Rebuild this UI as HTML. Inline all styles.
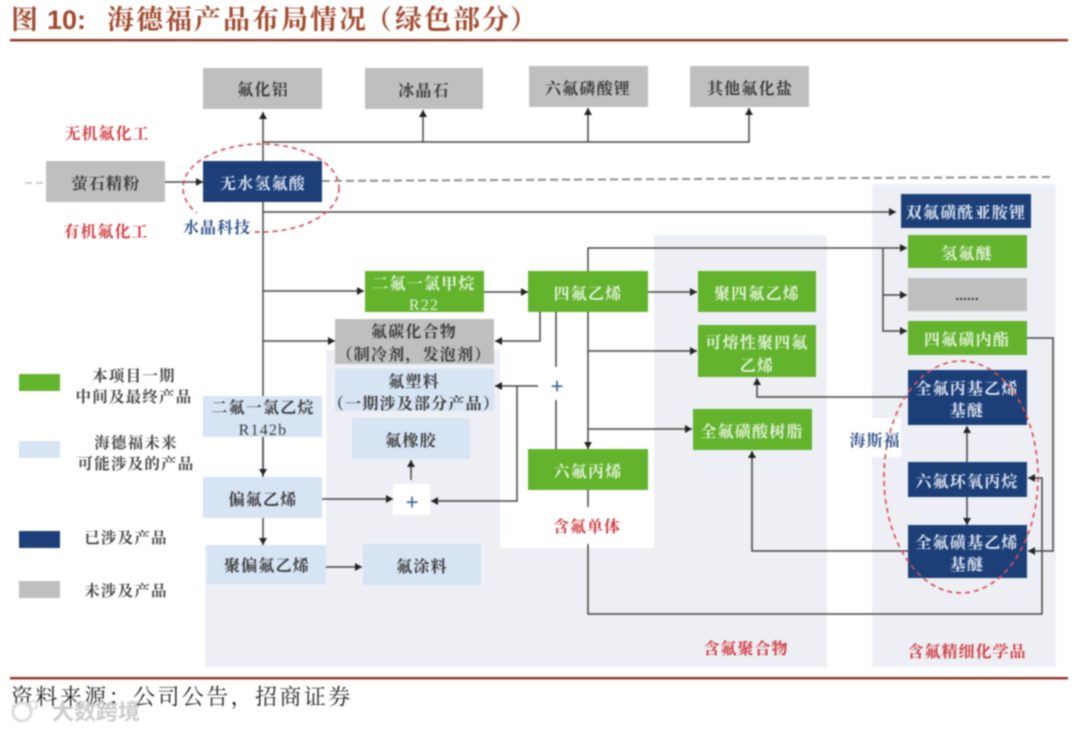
<!DOCTYPE html>
<html><head><meta charset="utf-8"><style>
html,body{margin:0;padding:0;background:#fff;width:1080px;height:731px;overflow:hidden}
svg{display:block;filter:blur(.7px)}
text{font-family:"Liberation Serif","Noto Serif CJK SC",serif;dominant-baseline:central;text-anchor:middle}
.n,.w,.v,.r,.b,.l{transform:translateY(1.5px)}
.n{font-size:16px;letter-spacing:1.2px;font-weight:700;fill:#3a3a3a}
.w{font-size:16px;letter-spacing:1.2px;font-weight:700;fill:#e6f3dc}
.v{font-size:16px;letter-spacing:1.2px;font-weight:700;fill:#dfe6f2}
.r{font-size:16px;letter-spacing:1px;font-weight:700;fill:#cf3b40}
.b{font-size:16px;letter-spacing:1px;font-weight:700;fill:#2f5288}
.l{font-size:15.5px;letter-spacing:1.2px;font-weight:700;fill:#444}
.t{text-anchor:start;font-size:27px;font-weight:700;fill:#a04a2e}
.g{fill:#63b32d}.y{fill:#bfbfbf}.d{fill:#1c3f78}.a{fill:#d7e4f4}
.c path{fill:none;stroke:#444;stroke-width:1.5}
</style></head><body>
<svg width="1080" height="731" viewBox="0 0 1080 731" xmlns="http://www.w3.org/2000/svg">
<defs>
<marker id="m" markerUnits="userSpaceOnUse" markerWidth="9" markerHeight="9" refX="7" refY="4" orient="auto"><path d="M0 0L7 4L0 8Z" fill="#222"/></marker>
</defs>
<text class="t" x="11" y="20">图</text>
<text class="t" x="47" y="20" style="font-family:'Liberation Sans',sans-serif">10:</text>
<text class="t" x="107" y="20" style="letter-spacing:2px">海德福产品布局情况</text>
<text class="t" x="365" y="20">（</text>
<text class="t" x="395" y="20" style="letter-spacing:2px">绿色部分</text>
<text class="t" x="510" y="20">）</text>
<rect x="10" y="39" width="1058" height="2.4" fill="#8d3022"/>
<rect x="10" y="677" width="1058" height="2.4" fill="#8d3022"/>
<text x="11" y="697" style="text-anchor:start;font-size:22px;fill:#222;letter-spacing:2.4px">资料来源：公司公告，招商证券</text>

<!-- backgrounds -->
<path d="M326 350H500V548H654V235H827V667H205V545H326Z" fill="#edeff4"/>
<rect x="872" y="184" width="184" height="483" fill="#edeff4"/>
<rect x="848" y="418" width="53" height="39" fill="#fff"/>

<g class="c">
<path d="M263 477V112" marker-end="url(#m)"/>
<path d="M263 437V476" marker-end="url(#m)"/>
<path d="M263 518V545" marker-end="url(#m)"/>
<path d="M263 142H749V108" marker-end="url(#m)"/>
<path d="M423 142V110" marker-end="url(#m)"/>
<path d="M588 142V108" marker-end="url(#m)"/>
<path d="M263 212H896" marker-end="url(#m)"/>
<path d="M165 182H203" marker-end="url(#m)"/>
<path d="M263 291H364" marker-end="url(#m)"/>
<path d="M484 292H528" marker-end="url(#m)"/>
<path d="M648 292H697" marker-end="url(#m)"/>
<path d="M263 341H335" marker-end="url(#m)"/>
<path d="M540 312V341H495" marker-end="url(#m)"/>
<path d="M556 312V367M556 400V449"/>
<path d="M588 312V449" marker-end="url(#m)"/>
<path d="M588 351H697" marker-end="url(#m)"/>
<path d="M588 429H692" marker-end="url(#m)"/>
<path d="M588 490V507M588 544V614H1042V478H1028" marker-end="url(#m)"/>
<path d="M588 271V248H907" marker-end="url(#m)"/>
<path d="M883 248V331H907" marker-end="url(#m)"/>
<path d="M883 295H907" marker-end="url(#m)"/>
<path d="M1027 338H1053V551H1028" marker-end="url(#m)"/>
<path d="M538 386H495" marker-end="url(#m)"/>
<path d="M517 386V501H431" marker-end="url(#m)"/>
<path d="M322 499H393" marker-end="url(#m)"/>
<path d="M411 480V460" marker-end="url(#m)"/>
<path d="M326 567H362" marker-end="url(#m)"/>
<path d="M908 397H757V378" marker-end="url(#m)"/>
<path d="M908 551H752V451" marker-end="url(#m)"/>
<path d="M967 462V426" marker-end="url(#m)"/>
<path d="M967 497V525" marker-end="url(#m)"/>
</g>
<path d="M322 181L1050 177" stroke="#8f8f8f" stroke-width="2" stroke-dasharray="8 4" fill="none"/>
<path d="M25 183H45" stroke="#ccc" stroke-width="2" stroke-dasharray="7 4" fill="none"/>

<!-- top gray -->
<rect class="y" x="203" y="68" width="119" height="41"/><text class="n" x="263" y="89">氟化铝</text>
<rect class="y" x="365" y="68" width="118" height="41"/><text class="n" x="424" y="90">冰晶石</text>
<rect class="y" x="529" y="66" width="119" height="41"/><text class="n" x="588" y="88">六氟磷酸锂</text>
<rect class="y" x="690" y="66" width="119" height="41"/><text class="n" x="750" y="88">其他氟化盐</text>
<rect class="y" x="46" y="161" width="119" height="41"/><text class="n" x="106" y="183">萤石精粉</text>
<rect class="d" x="203" y="161" width="119" height="41"/><text class="v" x="263" y="183">无水氢氟酸</text>

<rect class="g" x="365" y="271" width="119" height="41"/><text class="w" x="424" y="283">二氟一氯甲烷</text><text class="w" x="424" y="304" style="font-weight:400">R22</text>
<rect class="g" x="528" y="271" width="120" height="41"/><text class="w" x="588" y="293">四氟乙烯</text>
<rect class="y" x="335" y="319" width="159" height="45"/><text class="n" x="414" y="331">氟碳化合物</text><text class="n" x="414" y="354">（制冷剂，发泡剂）</text>
<rect class="a" x="335" y="369" width="159" height="42"/><text class="n" x="414" y="381">氟塑料</text><text class="n" x="414" y="403">（一期涉及部分产品）</text>
<rect class="a" x="352" y="418" width="118" height="41"/><text class="n" x="411" y="440">氟橡胶</text>
<rect class="g" x="528" y="449" width="120" height="41"/><text class="w" x="588" y="471">六氟丙烯</text>
<rect x="393" y="484" width="37" height="31" fill="#fff"/><text x="412" y="502" style="font-size:22px;fill:#2f5f9e;font-family:'Liberation Sans'">+</text>
<text x="557" y="386" style="font-size:22px;fill:#2f5f9e;font-family:'Liberation Sans'">+</text>
<rect class="a" x="203" y="396" width="119" height="41"/><text class="n" x="263" y="407">二氟一氯乙烷</text><text class="n" x="263" y="429" style="font-weight:400">R142b</text>
<rect class="a" x="203" y="477" width="119" height="41"/><text class="n" x="263" y="499">偏氟乙烯</text>
<rect class="a" x="207" y="545" width="119" height="39"/><text class="n" x="267" y="565">聚偏氟乙烯</text>
<rect class="a" x="363" y="544" width="118" height="41"/><text class="n" x="422" y="566">氟涂料</text>

<rect class="g" x="698" y="271" width="118" height="41"/><text class="w" x="757" y="293">聚四氟乙烯</text>
<rect class="g" x="698" y="325" width="118" height="52"/><text class="w" x="757" y="342">可熔性聚四氟</text><text class="w" x="757" y="365">乙烯</text>
<rect class="g" x="693" y="409" width="119" height="41"/><text class="w" x="752" y="431">全氟磺酸树脂</text>

<rect class="d" x="901" y="194" width="130" height="34"/><text class="v" x="966" y="212">双氟磺酰亚胺锂</text>
<rect class="g" x="908" y="235" width="119" height="33"/><text class="w" x="967" y="253">氢氟醚</text>
<rect class="y" x="908" y="278" width="119" height="33"/><text x="967" y="295" style="font-size:14px;fill:#333;font-weight:700;font-family:'Liberation Sans'">......</text>
<rect class="g" x="908" y="321" width="119" height="34"/><text class="w" x="967" y="339">四氟磺内酯</text>
<rect class="d" x="908" y="370" width="119" height="55"/><text class="v" x="967" y="388">全氟丙基乙烯</text><text class="v" x="967" y="410">基醚</text>
<rect class="d" x="908" y="462" width="119" height="35"/><text class="v" x="967" y="481">六氟环氧丙烷</text>
<rect class="d" x="908" y="525" width="119" height="53"/><text class="v" x="967" y="542">全氟磺基乙烯</text><text class="v" x="967" y="564">基醚</text>

<!-- ellipses -->
<ellipse cx="261" cy="188" rx="78" ry="44" fill="none" stroke="#d9505a" stroke-width="1.7" stroke-dasharray="5 4"/>
<rect x="183" y="213" width="67" height="26" fill="#fff"/>
<ellipse cx="961" cy="477" rx="77" ry="116" fill="none" stroke="#d9505a" stroke-width="1.7" stroke-dasharray="5 4"/>

<text class="r" x="107" y="133">无机氟化工</text>
<text class="r" x="106" y="231">有机氟化工</text>
<text class="b" x="217" y="227">水晶科技</text>
<text class="b" x="875" y="440">海斯福</text>
<text class="r" x="587" y="526">含氟单体</text>
<text class="r" x="746" y="648">含氟聚合物</text>
<text class="r" x="967" y="651">含氟精细化学品</text>

<!-- legend -->
<rect class="g" x="19" y="374" width="41" height="17"/>
<rect class="a" x="19" y="441" width="41" height="17"/>
<rect class="d" x="19" y="531" width="41" height="17"/>
<rect class="y" x="19" y="581" width="41" height="17"/>
<text class="l" x="134" y="375">本项目一期</text>
<text class="l" x="134" y="396">中间及最终产品</text>
<text class="l" x="136" y="442">海德福未来</text>
<text class="l" x="136" y="463">可能涉及的产品</text>
<text class="l" x="126" y="537">已涉及产品</text>
<text class="l" x="126" y="590">未涉及产品</text>

<!-- watermark -->
<circle cx="22" cy="712" r="9" fill="none" stroke="#ddd" stroke-width="3"/>
<circle cx="33" cy="705" r="4" fill="none" stroke="#ddd" stroke-width="2"/>
<text x="96" y="712" style="font-size:22px;fill:#ccc;font-family:'Liberation Sans','Noto Sans CJK SC',sans-serif;font-weight:700">大数跨境</text>
</svg>
</body></html>
